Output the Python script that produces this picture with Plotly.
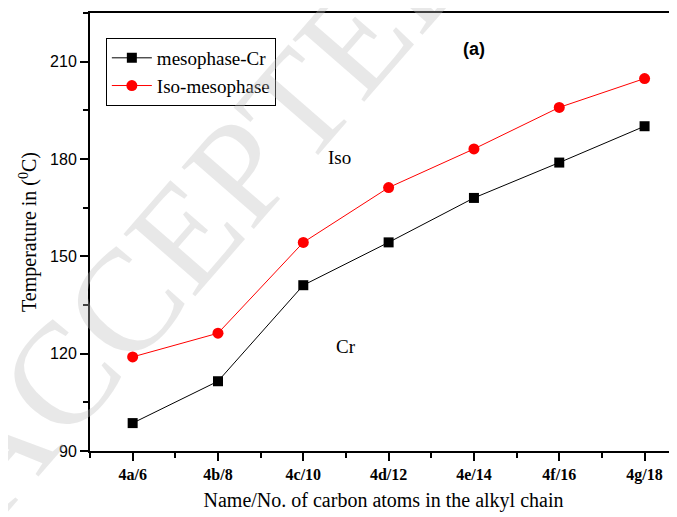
import plotly.graph_objects as go

categories = ["4a/6", "4b/8", "4c/10", "4d/12", "4e/14", "4f/16", "4g/18"]
meso_cr = [98.6, 111.5, 141.1, 154.3, 168.0, 178.9, 190.1]
iso_meso = [119.0, 126.3, 154.3, 171.2, 183.1, 195.9, 204.8]

xs = list(range(len(categories)))

fig = go.Figure()
fig.add_trace(go.Scatter(x=xs, y=meso_cr, mode="lines+markers", name="mesophase-Cr",
                         line=dict(color="black", width=1),
                         marker=dict(symbol="square", size=10, color="black")))
fig.add_trace(go.Scatter(x=xs, y=iso_meso, mode="lines+markers", name="Iso-mesophase",
                         line=dict(color="red", width=1),
                         marker=dict(symbol="circle", size=11, color="red")))

fig.update_layout(
    width=669, height=509,
    margin=dict(l=82, r=0, t=5, b=66),
    plot_bgcolor="white", paper_bgcolor="white",
    showlegend=True,
    legend=dict(x=0.027, y=0.943, xanchor="left", yanchor="top",
                bordercolor="black", borderwidth=1, bgcolor="rgba(255,255,255,0)",
                font=dict(family="Liberation Serif", size=19, color="black"),
                tracegroupgap=0, itemwidth=40),
    xaxis=dict(range=[-0.5, 6.38], tickvals=xs, ticktext=categories,
               showline=True, linecolor="black", linewidth=2, mirror=True,
               ticks="outside", ticklen=8, tickwidth=2, tickcolor="black",
               minor=dict(ticks="outside", ticklen=5, tickwidth=2, tickcolor="black", dtick=0.5, tick0=0.5),
               showgrid=False, zeroline=False,
               tickfont=dict(family="Liberation Serif", size=16, color="black", weight="bold"),
               title=dict(text="Name/No. of carbon atoms in the alkyl chain",
                          font=dict(family="Liberation Serif", size=20, color="black"), standoff=10)),
    yaxis=dict(range=[90, 225], tickvals=[90, 120, 150, 180, 210],
               showline=True, linecolor="black", linewidth=2,
               ticks="outside", ticklen=8, tickwidth=2, tickcolor="black",
               minor=dict(ticks="outside", ticklen=5, tickwidth=2, tickcolor="black", dtick=15, tick0=105),
               showgrid=False, zeroline=False,
               tickfont=dict(family="Liberation Sans", size=16, color="black"),
               title=dict(text="Temperature in (<sup>0</sup>C)",
                          font=dict(family="Liberation Serif", size=20, color="black"), standoff=8)),
)

fig.add_annotation(text="ACCEPTED MANUSCRIPT", x=0.74, y=1.388, xref="paper", yref="paper",
                   xanchor="center", yanchor="middle",
                   showarrow=False, textangle=-49,
                   font=dict(family="Liberation Serif", size=145, color="rgba(190,190,190,0.35)"))

fig.add_annotation(text="Iso", x=2.42, y=180.5, showarrow=False, xanchor="center", yanchor="middle",
                   font=dict(family="Liberation Serif", size=19, color="black"))
fig.add_annotation(text="Cr", x=2.5, y=122.3, showarrow=False, xanchor="center", yanchor="middle",
                   font=dict(family="Liberation Serif", size=19, color="black"))
fig.add_annotation(text="<b>(a)</b>", x=4.0, y=214, showarrow=False, xanchor="center", yanchor="middle",
                   font=dict(family="Liberation Sans", size=18, color="black"))

fig.write_html("out.html")
